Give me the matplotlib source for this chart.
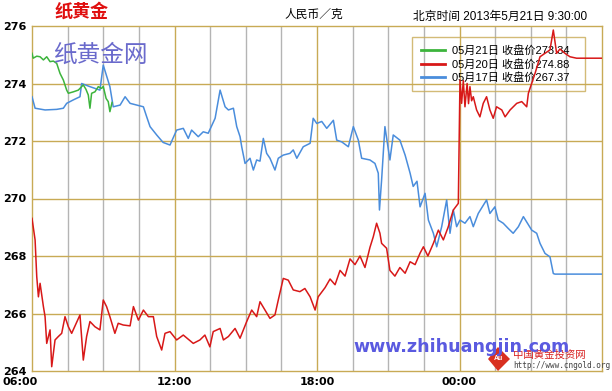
import matplotlib
matplotlib.use("Agg")
import matplotlib.pyplot as plt
from matplotlib.lines import Line2D
from matplotlib.patches import Polygon
from matplotlib.transforms import ScaledTranslation

plt.rcParams['font.family'] = ['Liberation Sans', 'Noto Sans CJK SC', 'DejaVu Sans']

# hours after 06:00 and price (CNY/g)
green_t = [0.00, 0.05, 0.20, 0.34, 0.48, 0.62, 0.76, 0.90, 1.04, 1.18, 1.32, 1.46, 1.53,
           1.74, 1.95, 2.16, 2.27, 2.37, 2.44, 2.51, 2.65, 2.79, 2.93, 3.00, 3.12, 3.21,
           3.28, 3.37]
green_v = [275.05, 274.88, 274.95, 274.93, 274.82, 274.93, 274.76, 274.78, 274.70, 274.35,
           274.12, 273.77, 273.66, 273.71, 273.77, 273.95, 273.80, 273.60, 273.14, 273.66,
           273.71, 273.89, 273.83, 273.90, 273.48, 273.37, 273.02, 273.34]

red_t = [0.00, 0.13, 0.20, 0.27, 0.34, 0.48, 0.55, 0.62, 0.76, 0.83, 0.97, 1.11, 1.25,
         1.39, 1.53, 1.67, 2.02, 2.16, 2.30, 2.44, 2.65, 2.86, 3.00, 3.14, 3.28, 3.49,
         3.63, 3.84, 4.13, 4.27, 4.48, 4.69, 4.90, 5.11, 5.25, 5.46, 5.60, 5.81, 6.09,
         6.37, 6.79, 7.07, 7.28, 7.49, 7.63, 7.92, 8.06, 8.27, 8.55, 8.76, 9.04, 9.25,
         9.46, 9.60, 9.81, 10.02, 10.23, 10.37, 10.58, 10.79, 11.00, 11.28, 11.49, 11.71,
         11.92, 12.05, 12.34, 12.55, 12.76, 12.97, 13.18, 13.39, 13.60, 13.81, 14.02,
         14.23, 14.37, 14.51, 14.65, 14.72, 14.93, 15.07, 15.28, 15.49, 15.71, 15.92,
         16.13, 16.34, 16.48, 16.67, 16.90, 17.11, 17.32, 17.52, 17.74, 17.95, 18.02,
         18.09, 18.16, 18.23, 18.32, 18.38, 18.44, 18.51, 18.58, 18.72, 18.86, 19.00,
         19.14, 19.28, 19.42, 19.56, 19.78, 19.92, 20.13, 20.41, 20.62, 20.83, 20.90,
         21.04, 21.18, 21.39, 21.60, 21.81, 21.95, 22.09, 22.23, 22.44, 22.65, 22.93, 24.00]
red_v = [269.31, 268.56, 267.28, 266.58, 267.05, 266.24, 265.89, 264.96, 265.43, 264.15,
         265.08, 265.20, 265.31, 265.89, 265.54, 265.31, 265.95, 264.38, 265.20, 265.72,
         265.54, 265.43, 266.47, 266.24, 265.89, 265.31, 265.66, 265.60, 265.57, 266.24,
         265.77, 266.12, 265.89, 265.89, 265.20, 264.73, 265.31, 265.37, 265.08, 265.25,
         264.96, 265.08, 265.25, 264.84, 265.37, 265.48, 265.08, 265.20, 265.48, 265.14,
         265.72, 266.12, 265.89, 266.41, 266.12, 265.83, 265.95, 266.47, 267.22, 267.16,
         266.82, 266.76, 266.87, 266.58, 266.12, 266.58, 266.90, 267.20, 267.00, 267.50,
         267.30, 267.90, 267.70, 268.00, 267.60, 268.30, 268.67, 269.14, 268.79, 268.44,
         268.27, 267.50, 267.30, 267.60, 267.40, 267.80, 267.70, 268.10, 268.32, 268.00,
         268.44, 268.90, 268.56, 269.00, 269.60, 269.83, 274.12, 273.31, 274.10, 273.19,
         274.00, 273.30, 273.89, 273.40, 273.54, 273.08, 272.84, 273.31, 273.54, 273.08,
         272.79, 273.19, 273.08, 272.84, 273.08, 273.31, 273.37, 273.19, 273.66, 274.00,
         274.35, 274.93, 275.05, 275.17, 275.86, 275.05, 275.20, 275.05, 274.93, 274.88,
         274.88]

blue_t = [0.00, 0.13, 0.55, 1.04, 1.32, 1.46, 1.74, 2.02, 2.09, 2.44, 2.86, 3.00, 3.28,
          3.42, 3.71, 3.92, 4.13, 4.69, 4.83, 4.97, 5.26, 5.52, 5.81, 6.09, 6.37, 6.58,
          6.72, 7.00, 7.21, 7.42, 7.71, 7.92, 8.13, 8.27, 8.48, 8.62, 8.76, 8.83, 8.97,
          9.18, 9.32, 9.46, 9.60, 9.74, 9.88, 10.02, 10.23, 10.37, 10.58, 10.86, 11.00,
          11.15, 11.42, 11.71, 11.84, 11.99, 12.20, 12.41, 12.69, 12.83, 13.04, 13.32,
          13.46, 13.53, 13.74, 13.88, 14.23, 14.44, 14.58, 14.63, 14.72, 14.86, 15.07,
          15.21, 15.49, 15.71, 15.92, 16.05, 16.21, 16.34, 16.55, 16.69, 16.90, 17.04,
          17.25, 17.46, 17.60, 17.74, 17.88, 18.02, 18.23, 18.44, 18.58, 18.79, 19.14,
          19.28, 19.49, 19.63, 19.84, 20.05, 20.26, 20.48, 20.69, 21.04, 21.25, 21.39,
          21.60, 21.81, 21.95, 22.02, 24.00]
blue_v = [273.54, 273.14, 273.08, 273.10, 273.14, 273.31, 273.43, 273.54, 274.00, 273.89,
          273.77, 274.64, 273.89, 273.19, 273.25, 273.54, 273.31, 273.19, 272.84, 272.50,
          272.20, 271.95, 271.86, 272.38, 272.44, 272.09, 272.38, 272.15, 272.32, 272.27,
          272.79, 273.77, 273.19, 273.08, 273.14, 272.50, 272.15, 271.80, 271.22, 271.40,
          270.99, 271.34, 271.30, 272.09, 271.57, 271.40, 270.99, 271.40, 271.51, 271.57,
          271.69, 271.40, 271.80, 271.92, 272.79, 272.61, 272.68, 272.44, 272.72, 272.03,
          271.97, 271.80, 272.27, 272.50, 272.03, 271.40, 271.34, 271.22, 270.88, 269.60,
          270.64, 272.50, 271.34, 272.21, 272.03, 271.51, 270.88, 270.42, 270.60, 269.71,
          270.18, 269.25, 268.79, 268.32, 269.02, 269.95, 268.79, 269.60, 269.02, 269.25,
          269.14, 269.37, 269.02, 269.48, 269.95, 269.48, 269.71, 269.25, 269.14, 268.96,
          268.79, 269.02, 269.37, 268.90, 268.79, 268.44, 268.09, 267.97, 267.39, 267.37,
          267.37]

legend_labels = ["05月21日 收盘价273.34", "05月20日 收盘价274.88", "05月17日 收盘价267.37"]
y_ticks = [264, 266, 268, 270, 272, 274, 276]
x_ticks = [0, 6, 12, 18]
x_labels = ["06:00", "12:00", "18:00", "00:00"]

GOLD = '#c8aa55'
GREY = '#b4b4b4'
C_GREEN = '#3cb43c'
C_RED = '#d81818'
C_BLUE = '#4a8ddc'

fig = plt.figure(figsize=(6.12, 3.91), dpi=100)
ax = fig.add_axes([32/612, 1 - 371/391, 570/612, 345/391])
ax.set_xlim(0, 24)
ax.set_ylim(264, 276)

# grid: gray every 1.5 h, gold every 6 h and every 2 units
for h in [i * 1.5 for i in range(1, 16)]:
    ax.axvline(h, color=GOLD if h % 6 == 0 else GREY, lw=1.0, zorder=1)
for v in y_ticks[1:-1]:
    ax.axhline(v, color=GOLD, lw=1.0, zorder=1)
for s in ax.spines.values():
    s.set_color(GOLD)
    s.set_linewidth(1.0)

ax.plot(blue_t, blue_v, color=C_BLUE, lw=1.1, zorder=3)
ax.plot(red_t, red_v, color=C_RED, lw=1.1, zorder=4)
ax.plot(green_t, green_v, color=C_GREEN, lw=1.1, zorder=5)

ax.set_yticks(y_ticks)
ax.set_yticklabels([str(v) for v in y_ticks], fontsize=8, fontweight='bold',
                   family='DejaVu Sans')
ax.set_xticks(x_ticks)
ax.set_xticklabels(x_labels, fontsize=8, fontweight='bold', family='DejaVu Sans')
ax.tick_params(length=0, pad=4)
first = ax.get_xticklabels()[0]
first.set_transform(first.get_transform() + ScaledTranslation(-0.12, 0, fig.dpi_scale_trans))

handles = [Line2D([], [], color=c, lw=2) for c in (C_GREEN, C_RED, C_BLUE)]
leg = ax.legend(handles, legend_labels, loc='upper left',
                bbox_to_anchor=(0.667, 0.814, 0.303, 0.154), mode='expand',
                fontsize=8, frameon=True, fancybox=False, edgecolor=GOLD,
                facecolor='none', handlelength=2.2,
                labelspacing=0.22, borderpad=0.75, handletextpad=0.6,
                borderaxespad=0)
leg.get_frame().set_linewidth(1.0)
leg.set_zorder(2)

# header texts
fig.text(55/612, 1 - 12/391, "纸黄金", color='#e01010', fontsize=13, fontweight='bold',
         va='center', ha='left')
fig.text(284/612, 1 - 15/391, "人民币／克", fontsize=8.5, va='center', ha='left')
fig.text(413/612, 1 - 17/391, "北京时间 2013年5月21日 9:30:00", fontsize=8.5,
         va='center', ha='left')

# watermarks
fig.text(53/612, 1 - 55/391, "纸黄金网", color='#6a6acc', fontsize=17, va='center',
         ha='left', family=['Noto Sans CJK SC'])
fig.text(353/612, 1 - 347/391, "www.zhihuangjin.com", color='#5a5ae0', fontsize=12.6,
         fontweight='bold', va='center', ha='left', family='DejaVu Sans', zorder=6)

logo = Polygon([[488/612, 1 - 359/391], [498/612, 1 - 347/391], [510/612, 1 - 359/391],
                [498/612, 1 - 371/391]], closed=True, transform=fig.transFigure,
               facecolor='#d83020', edgecolor='none')
fig.patches.append(logo)
fig.text(498/612, 1 - 359/391, "Au", color='white', fontsize=5, fontweight='bold',
         va='center', ha='center')
fig.text(513/612, 1 - 355/391, "中国黄金投资网", color='#d82020', fontsize=7.5,
         va='center', ha='left')
fig.text(513/612, 1 - 365/391, "http://www.cngold.org", color='#404040', fontsize=5.5,
         va='center', ha='left', family='DejaVu Sans Mono')

fig.savefig("out.png", dpi=100)
